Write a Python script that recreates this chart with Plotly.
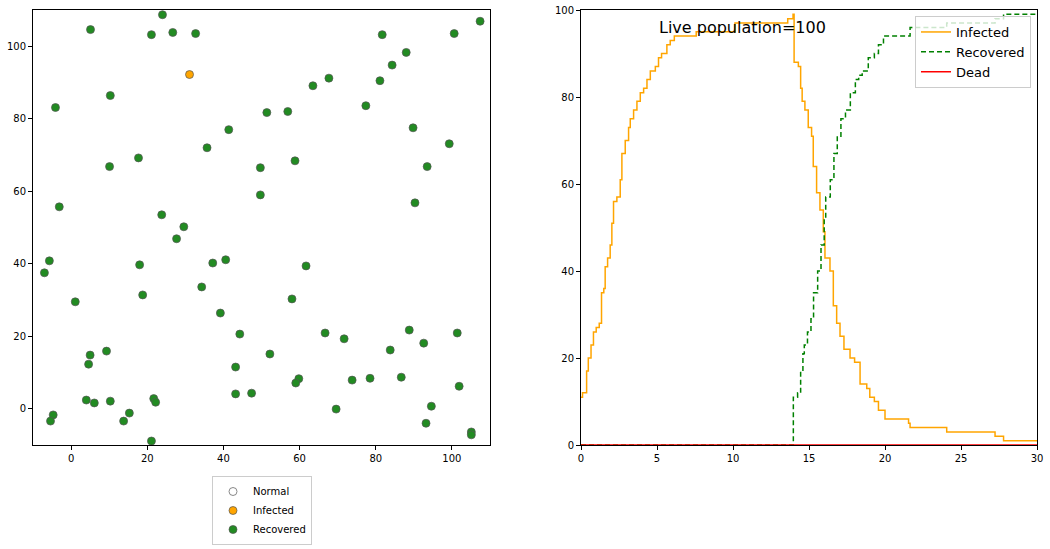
import plotly.graph_objects as go

# positions of the agents at the end of the run
recovered_x = [5.1, 24.0, 21.1, 26.7, 32.7, 10.3, -4.1, 41.4, 35.7, 17.7, 10.1, -3.1, 23.8, 29.6,
               49.7, 49.7, 107.4, 100.6, 81.7, 88.0, 84.3, 67.7, 63.5, 81.1, 77.4, 51.4, 56.9, 89.8,
               99.3, 58.8, 93.5, 90.3, 27.7, -5.7, -7.0, 18.0, 37.2, 40.6, 34.3, 18.8, 1.1, 39.2,
               44.3, 9.3, 5.0, 4.6, 43.2, 4.0, 6.1, 10.3, 21.7, 22.2, 43.2, 47.4, -4.7, -5.4, 15.3,
               13.8, 21.1, 61.7, 58.0, 66.7, 71.7, 88.8, 101.4, 92.6, 83.8, 52.2, 59.8, 59.0, 73.8,
               78.5, 86.7, 101.9, 69.6, 94.6, 93.2, 105.1, 105.1]
recovered_y = [104.6, 108.7, 103.2, 103.8, 103.5, 86.4, 83.1, 77.0, 72.0, 69.2, 66.8, 55.7, 53.5, 50.2,
               66.5, 59.0, 106.9, 103.5, 103.2, 98.3, 94.8, 91.2, 89.1, 90.5, 83.6, 81.7, 82.0, 77.5,
               73.1, 68.4, 66.8, 56.8, 46.9, 40.8, 37.5, 39.7, 40.2, 41.1, 33.6, 31.4, 29.5, 26.4,
               20.6, 15.9, 14.8, 12.3, 11.5, 2.4, 1.6, 2.1, 2.8, 1.8, 4.1, 4.3, -1.7, -3.4, -1.2,
               -3.4, -8.9, 39.4, 30.3, 20.9, 19.3, 21.7, 20.9, 18.1, 16.2, 15.1, 8.3, 7.1, 7.9,
               8.4, 8.7, 6.2, -0.1, 0.7, -4.0, -6.4, -7.2]
infected_x = [31.1]
infected_y = [92.2]
normal_x = [None]
normal_y = [None]

# time series (counts out of 100)
inf_t = [0, 0.1, 0.37, 0.48, 0.66, 0.82, 1.0, 1.2, 1.35, 1.5, 1.59, 1.75, 1.92, 2.03, 2.14, 2.36,
         2.58, 2.69, 2.91, 3.13, 3.24, 3.46, 3.68, 3.9, 4.12, 4.34, 4.56, 4.89, 5.1, 5.3, 5.65,
         5.87, 6.14, 7.58, 10.13, 13.6, 13.95, 14.02, 14.3, 14.45, 14.55, 14.73, 14.95, 15.17,
         15.28, 15.5, 15.72, 15.94, 16.05, 16.38, 16.6, 16.82, 17.04, 17.3, 17.7, 18.0, 18.36,
         18.8, 19.0, 19.3, 19.57, 20.0, 21.55, 21.65, 24.06, 27.24, 27.8, 30]
inf_n = [11, 12, 17, 20, 23, 26, 27, 28, 35, 36, 41, 43, 46, 51, 56, 57,
         61, 67, 70, 73, 75, 77, 79, 81, 82, 84, 86, 87, 89, 90, 92,
         93, 94, 95, 97, 98, 99, 88, 87, 82, 79, 77, 73, 71,
         64, 58, 54, 49, 43, 40, 32, 28, 25, 22, 20, 19, 14,
         13, 11, 10, 8, 6, 5, 4, 3, 2, 1, 1]
rec_t = [0, 13.97, 14.25, 14.45, 14.6, 14.69, 14.9, 15.13, 15.3, 15.57, 15.79, 16.0, 16.1, 16.4,
         16.64, 16.86, 17.1, 17.4, 17.72, 18.05, 18.27, 18.5, 18.9, 19.3, 19.57, 19.9, 21.65,
         24.06, 27.24, 27.8, 30]
rec_n = [0, 11, 12, 17, 21, 23, 26, 29, 35, 40, 46, 52, 57, 61,
         67, 71, 75, 77, 81, 84, 85, 86, 89, 90, 92, 94, 96,
         97, 98, 99, 99]
dead_t = [0, 30]
dead_n = [0, 0]
population = 100

FONT = "DejaVu Sans"

fig = go.Figure()

marker_line = dict(color="#555555", width=0.7)
fig.add_trace(go.Scatter(x=normal_x, y=normal_y, mode="markers", name="Normal",
                         marker=dict(size=8, color="white", line=dict(color="#888888", width=1)),
                         legend="legend"))
fig.add_trace(go.Scatter(x=infected_x, y=infected_y, mode="markers", name="Infected",
                         marker=dict(size=8, color="#FFA500", line=marker_line),
                         legend="legend"))
fig.add_trace(go.Scatter(x=recovered_x, y=recovered_y, mode="markers", name="Recovered",
                         marker=dict(size=8, color="#228B22", line=marker_line),
                         legend="legend"))

fig.add_trace(go.Scatter(x=inf_t, y=inf_n, mode="lines", name="Infected", line_shape="hv",
                         line=dict(color="#FFA500", width=1.5),
                         xaxis="x2", yaxis="y2", legend="legend2"))
fig.add_trace(go.Scatter(x=rec_t, y=rec_n, mode="lines", name="Recovered", line_shape="hv",
                         line=dict(color="#008000", width=1.5, dash="5px,3px"),
                         xaxis="x2", yaxis="y2", legend="legend2"))
fig.add_trace(go.Scatter(x=dead_t, y=dead_n, mode="lines", name="Dead",
                         line=dict(color="#FF0000", width=1.5),
                         xaxis="x2", yaxis="y2", legend="legend2"))

axis_style = dict(showgrid=False, zeroline=False, showline=True, mirror=True,
                  linecolor="black", linewidth=1, ticks="outside", ticklen=4,
                  tickcolor="black", tickfont=dict(size=10, color="black"),
                  automargin=False)

fig.update_layout(
    width=1050, height=549, autosize=False,
    margin=dict(l=0, r=0, t=0, b=0, autoexpand=False),
    plot_bgcolor="white", paper_bgcolor="white",
    font=dict(family=FONT, color="black"),
    xaxis=dict(domain=[33 / 1050, 490 / 1050], range=[-10, 110], dtick=20, **axis_style),
    yaxis=dict(domain=[104 / 549, 539 / 549], range=[-10, 110], dtick=20, **axis_style),
    xaxis2=dict(domain=[581 / 1050, 1037 / 1050], range=[0, 30], dtick=5, anchor="y2", **axis_style),
    yaxis2=dict(domain=[104 / 549, 539 / 549], range=[0, 100], dtick=20, anchor="x2", **axis_style),
    legend=dict(x=262 / 1050, y=4 / 549, xanchor="center", yanchor="bottom",
                bordercolor="#cccccc", borderwidth=1, bgcolor="white",
                font=dict(size=10), tracegroupgap=0, itemwidth=30),
    legend2=dict(x=1031 / 1050, y=1 - 16 / 549, xanchor="right", yanchor="top",
                 bordercolor="#cccccc", borderwidth=1, bgcolor="rgba(255,255,255,0.8)",
                 font=dict(size=13)),
    annotations=[dict(x=5, y=96, xref="x2", yref="y2", xanchor="left", yanchor="middle",
                      text=f"Live population={population}", showarrow=False,
                      font=dict(size=16, color="black"))],
)

# drop the default page margin so the figure sits at the window's corner
fig.write_html("out.html", config={"displayModeBar": False, "responsive": False},
               post_script="document.body.style.margin='0px';")
